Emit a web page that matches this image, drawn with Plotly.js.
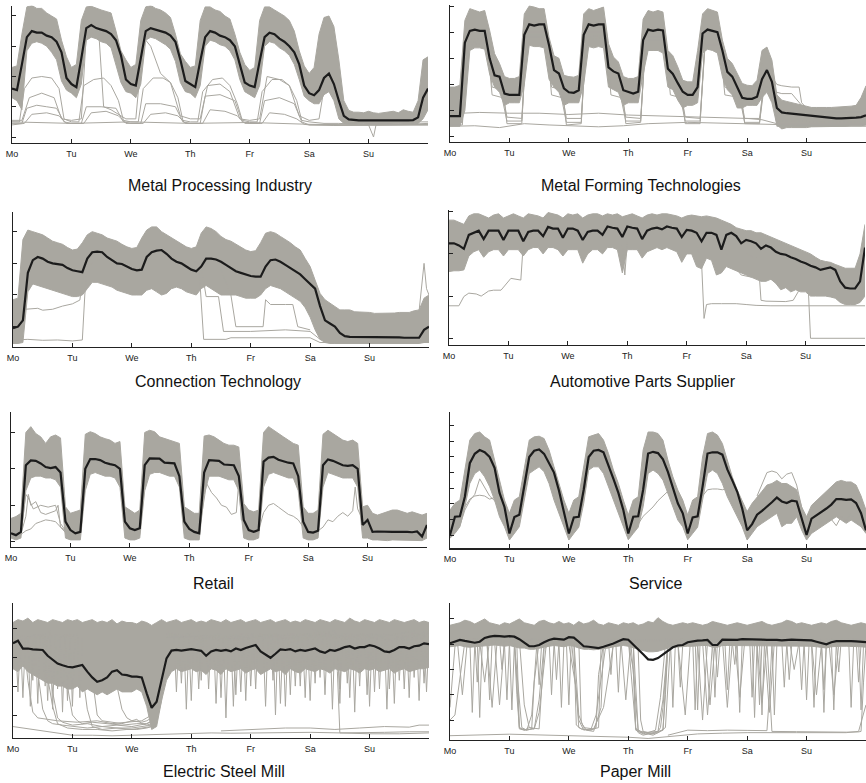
<!DOCTYPE html>
<html><head><meta charset="utf-8">
<script src="https://cdn.plot.ly/plotly-3.0.1.min.js"></script>
<style>html,body{margin:0;padding:0;background:#fff}#chart{width:866px;height:783px}</style>
</head><body><div id="chart"></div>
<script>
const HOURS = [0,2,4,6,8,10,12,14,16,18,20,22,24,26,28,30,32,34,36,38,40,42,44,46,48,50,52,54,56,58,60,62,64,66,68,70,72,74,76,78,80,82,84,86,88,90,92,94,96,98,100,102,104,106,108,110,112,114,116,118,120,122,124,126,128,130,132,134,136,138,140,142,144,146,148,150,152,154,156,158,160,162,164,166,168];
const DAY_TICKS = [0,24,48,72,96,120,144];
const DAY_LABELS = ['Mo','Tu','We','Th','Fr','Sa','Su'];
const TITLES = ['Metal Processing Industry','Metal Forming Technologies','Connection Technology','Automotive Parts Supplier','Retail','Service','Electric Steel Mill','Paper Mill'];

// ---------- Panel 1: Metal Processing Industry ----------
const P1_MEAN = [1.6,1.55,2.4,3.3,3.5,3.45,3.45,3.35,3.3,3.15,2.8,1.95,
1.75,1.65,2.6,3.6,3.7,3.6,3.55,3.5,3.4,3.2,2.7,1.9,
1.75,1.7,2.6,3.5,3.6,3.55,3.5,3.45,3.35,3.15,2.55,1.85,
1.75,1.65,2.5,3.3,3.5,3.45,3.35,3.3,3.2,3.0,2.4,1.8,
1.7,1.65,2.5,3.3,3.45,3.4,3.25,3.15,3.0,2.8,2.4,1.7,
1.45,1.38,1.55,1.95,2.1,1.75,1.2,0.7,0.58,0.56,0.55,0.55,0.55,0.54,0.55,0.54,0.53,0.53,0.54,0.54,0.55,0.56,0.65,1.3,1.6];
const P1_UPPER = [2.3,2.35,3.4,4.3,4.35,4.25,4.25,4.1,4.0,3.9,3.2,2.65,
2.3,2.4,3.85,4.3,4.32,4.25,4.2,4.15,4.1,3.5,2.85,2.55,
2.3,2.4,3.85,4.3,4.35,4.25,4.2,4.1,3.95,3.4,2.75,2.5,
2.3,2.35,3.85,4.3,4.3,4.2,4.15,4.0,3.9,3.4,2.8,2.4,
2.2,2.3,3.85,4.3,4.3,4.2,4.1,4.0,3.85,3.5,2.85,2.35,
2.1,2.3,3.4,3.95,4.0,3.65,2.55,1.2,0.88,0.82,0.82,0.8,0.85,0.8,0.78,0.8,0.82,0.85,0.8,0.9,0.85,0.82,1.2,2.55,2.65];
const P1_LOWER = [1.3,1.2,0.9,2.85,3.1,3.15,3.1,3.0,2.8,2.55,1.85,1.55,
1.45,1.3,1.75,3.2,3.3,3.25,3.15,3.1,2.95,2.4,1.8,1.5,
1.45,1.3,1.75,3.2,3.3,3.25,3.15,3.05,2.9,2.5,1.8,1.5,
1.45,1.3,1.7,3.0,3.2,3.15,3.05,3.0,2.85,2.55,1.9,1.5,
1.4,1.3,1.7,3.0,3.15,3.1,2.95,2.85,2.7,2.4,1.9,1.35,
1.2,1.1,1.1,1.4,1.5,1.2,0.6,0.45,0.42,0.43,0.42,0.44,0.42,0.43,0.42,0.42,0.43,0.42,0.44,0.43,0.42,0.43,0.45,0.6,0.9];
const P1_O1_H = [0,3,5,8,12,16,19,21,24,27,29,33,37,40,43,45,48,51,53,57,61,64,67,69,72,75,77,81,85,88,91,93,96,99,101,105,109,112,115,117,120,126,132,140,150,160,168];
const P1_O1_V = [0.5,0.5,1.6,1.95,2.0,1.95,1.6,0.6,0.5,0.5,1.7,1.9,1.95,1.7,1.2,0.55,0.5,0.5,1.6,1.95,1.95,1.8,1.3,0.55,0.5,0.5,1.5,1.9,1.95,1.7,1.1,0.55,0.5,0.5,1.5,1.9,1.9,1.7,1.2,0.55,0.5,0.45,0.45,0.42,0.42,0.42,0.45];
const P1_O2_H = [0,4,6,10,14,18,21,24,28,30,36,42,45,48,52,54,60,66,69,72,76,78,84,90,93,96,100,102,108,114,117,120,130,140,150,160,168];
const P1_O2_V = [0.45,0.45,0.95,1.05,1.0,0.95,0.5,0.45,0.45,1.0,1.0,0.95,0.5,0.45,0.45,1.1,1.1,1.0,0.5,0.45,0.45,1.35,1.4,1.2,0.5,0.45,0.45,1.2,1.3,1.1,0.5,0.4,0.38,0.38,0.38,0.38,0.4];
const P1_O3_H = [0,24,48,72,96,120,144,146,147,168];
const P1_O3_V = [0.5,0.45,0.5,0.45,0.48,0.42,0.4,0.0,0.4,0.42];
const P1_O4_H = [0,4,7,12,17,20,24,28,30,35,37,40,46,50,53,56,60,64,68,72,76,79,84,88,92,96,100,103,108,112,116,120,124,127,130,134,168];
const P1_O4_V = [0.55,0.55,1.3,1.45,1.3,0.6,0.55,0.6,3.4,3.5,1.0,0.9,0.6,0.6,3.3,3.0,2.1,1.8,0.7,0.6,0.6,1.7,1.75,1.5,0.6,0.55,0.6,2.0,1.9,1.7,0.7,0.55,0.6,2.1,1.6,0.5,0.5];
const P1_O5_H = [0,5,8,14,19,22,29,32,38,43,46,53,56,62,67,70,77,80,86,91,94,101,104,110,115,118,120,168];
const P1_O5_V = [0.4,0.45,0.75,0.8,0.7,0.45,0.45,0.8,0.85,0.7,0.45,0.45,0.75,0.8,0.7,0.45,0.45,0.9,0.85,0.7,0.45,0.45,0.8,0.75,0.6,0.42,0.4,0.4];

// ---------- Panel 2: Metal Forming Technologies ----------
const P2_MEAN = [0.79,0.79,0.79,3.6,4.05,4.1,4.05,4.05,3.0,2.35,2.3,1.65,
1.6,1.6,1.6,3.9,4.3,4.25,4.3,4.3,3.5,2.55,2.42,1.85,
1.7,1.68,1.78,3.9,4.3,4.25,4.3,4.3,2.65,2.5,2.42,1.78,
1.7,1.65,1.72,3.7,4.1,4.05,4.1,4.07,2.6,2.4,2.05,1.72,
1.6,1.6,1.9,3.95,4.1,4.05,4.0,3.3,2.48,2.3,1.88,1.49,
1.45,1.45,1.53,2.2,2.55,2.1,1.1,0.93,0.9,0.88,0.85,0.83,0.8,0.78,0.77,0.75,0.72,0.7,0.7,0.7,0.72,0.72,0.73,0.75,0.82];
const P2_UPPER = [1.9,1.9,1.97,4.45,4.9,4.83,4.77,4.83,4.07,3.18,2.8,2.3,
2.23,2.23,2.3,4.7,5.0,4.96,4.9,4.9,3.8,3.1,3.0,2.35,
2.3,2.28,2.35,4.7,4.9,4.83,4.9,4.96,3.56,3.05,2.86,2.3,
2.23,2.23,2.3,4.5,4.83,4.77,4.83,4.77,3.3,3.1,2.67,2.16,
2.1,2.1,3.3,4.7,4.9,4.83,4.77,3.7,3.0,2.8,2.42,2.04,
1.97,1.95,2.16,3.3,3.43,2.93,1.6,1.4,1.35,1.3,1.25,1.2,1.15,1.12,1.12,1.13,1.12,1.12,1.13,1.14,1.15,1.17,1.2,1.5,1.95];
const P2_LOWER = [0.4,0.4,0.4,1.0,3.3,3.4,3.4,3.35,2.4,1.9,1.7,1.2,
1.3,1.3,1.3,2.0,3.5,3.45,3.45,3.4,2.2,1.9,1.7,1.2,
1.3,1.3,1.3,2.0,3.45,3.4,3.45,3.4,1.9,1.8,1.7,1.2,
1.3,1.3,1.3,2.4,3.3,3.3,3.3,3.2,1.9,1.8,1.4,1.1,
1.2,1.2,1.3,3.2,3.35,3.3,3.2,2.3,1.8,1.6,1.1,1.1,
1.2,1.2,1.2,1.5,1.7,1.3,0.45,0.3,0.35,0.35,0.35,0.35,0.35,0.38,0.38,0.38,0.4,0.4,0.4,0.4,0.4,0.42,0.42,0.42,0.45];
const P2_O1_H = [0,12,24,36,48,60,72,84,96,108,120,126,132,168];
const P2_O1_V = [0.88,0.93,0.9,0.9,0.85,0.9,0.83,0.8,0.78,0.75,0.7,0.65,0.5,0.5];
const P2_O2_H = [0,10,20,30,40,50,60,70,80,96,120,140,168];
const P2_O2_V = [0.4,0.42,0.35,0.5,0.45,0.42,0.38,0.42,0.5,0.55,0.5,0.45,0.45];
const P2_O3_H = [120,124,126,128,132,134,138,141,142,144,168];
const P2_O3_V = [1.6,1.8,2.8,2.6,2.0,1.95,1.9,1.9,1.3,1.1,1.05];
const P2_O4_H = [118,122,126,130,134,138,142,146,150,168];
const P2_O4_V = [1.7,1.65,2.0,1.75,1.65,1.65,1.2,1.0,0.95,0.95];
const P2_N_H = [0,5,7,15,17,21,23,29,31,39,41,45,47,53,55,63,65,69,71,77,79,87,89,93,95,101,103,109,111,117,119,125,127,130,132,168];
const P2_N1_V = [0.45,0.45,3.7,3.8,2.3,2.2,0.5,0.5,4.0,4.0,2.3,2.2,0.45,0.5,4.0,4.0,2.3,2.2,0.5,0.55,3.8,3.8,2.3,2.1,0.5,0.5,3.8,3.7,2.3,2.0,0.5,0.5,2.4,2.2,0.4,0.4];
const P2_N2_V = [0.7,0.7,3.6,3.7,1.9,1.8,0.75,0.7,3.9,3.9,1.9,1.8,0.7,0.7,3.8,3.9,1.9,1.8,0.75,0.7,3.7,3.7,1.9,1.8,0.75,0.7,3.6,3.6,1.9,1.7,0.7,0.7,2.2,2.0,0.6,0.55];
const P2_N3_V = [0.55,0.55,3.5,3.6,1.6,1.5,0.6,0.6,3.8,3.8,1.6,1.5,0.55,0.55,3.7,3.8,1.6,1.5,0.6,0.6,3.6,3.6,1.6,1.5,0.6,0.6,3.5,3.5,1.6,1.5,0.55,0.55,2.0,1.8,0.5,0.5];

// ---------- Panel 3: Connection Technology ----------
const P3_MEAN = [-0.05,0.0,0.2,1.7,2.1,2.2,2.15,2.05,2.0,1.98,1.95,1.85,
1.78,1.75,1.72,2.15,2.35,2.37,2.35,2.2,2.1,2.0,1.98,1.9,
1.82,1.78,1.8,2.2,2.35,2.4,2.42,2.3,2.15,2.05,2.0,1.9,
1.8,1.75,1.9,2.15,2.15,2.12,2.05,1.95,1.85,1.75,1.7,1.65,
1.6,1.58,1.58,1.9,2.1,2.12,2.05,1.95,1.85,1.75,1.65,1.5,
1.35,1.2,0.65,0.2,0.1,0.0,-0.2,-0.3,-0.32,-0.32,-0.32,-0.32,-0.32,-0.32,-0.33,-0.33,-0.33,-0.34,-0.34,-0.35,-0.35,-0.35,-0.35,-0.1,0.0];
const P3_UPPER = [0.85,0.9,2.75,3.05,3.0,2.95,2.9,2.8,2.7,2.65,2.6,2.5,
2.42,2.45,2.65,2.9,3.0,2.95,2.9,2.8,2.75,2.7,2.6,2.52,
2.47,2.5,2.8,3.05,3.15,3.15,3.0,2.9,2.8,2.7,2.6,2.52,
2.47,2.52,2.95,3.15,3.1,3.0,2.85,2.75,2.7,2.6,2.52,2.42,
2.37,2.4,2.65,2.95,3.0,2.95,2.85,2.75,2.65,2.52,2.42,2.15,
1.9,1.47,1.05,0.85,0.75,0.63,0.53,0.53,0.53,0.47,0.47,0.45,0.45,0.42,0.42,0.42,0.42,0.43,0.45,0.45,0.45,0.5,0.53,0.9,1.0];
const P3_LOWER = [-0.53,-0.53,-0.5,1.1,1.35,1.3,1.25,1.2,1.15,1.1,1.05,1.0,
0.95,0.95,1.0,1.2,1.4,1.4,1.35,1.3,1.25,1.15,1.1,1.05,
1.0,1.0,1.0,1.15,1.2,1.1,1.0,1.05,1.2,1.25,1.2,1.1,
1.05,1.0,1.2,1.3,1.2,1.1,1.0,1.0,1.0,1.0,0.95,0.9,
0.9,0.9,1.0,1.2,1.3,1.25,1.2,1.1,1.0,0.9,0.8,0.6,
0.3,-0.1,-0.4,-0.5,-0.53,-0.53,-0.53,-0.53,-0.53,-0.53,-0.53,-0.53,-0.53,-0.53,-0.53,-0.53,-0.53,-0.53,-0.53,-0.53,-0.53,-0.53,-0.53,-0.5,-0.5];
const P3_O1_H = [0,5,10,12,16,20,24,27,29,31];
const P3_O1_V = [0.3,0.55,0.58,0.52,0.55,0.65,0.72,0.84,2.0,2.1];
const P3_O2_H = [0,6,12,18,24,28,29,30,34];
const P3_O2_V = [-0.42,-0.4,-0.43,-0.42,-0.45,-0.42,1.0,1.9,2.1];
const P3_O3_H = [74,76,78,83,85,96,110,120,124,168];
const P3_O3_V = [2.0,1.9,0.95,0.95,-0.15,-0.15,-0.1,-0.15,-0.4,-0.4];
const P3_O4_H = [72,75,77,84,86,88,120,124,168];
const P3_O4_V = [2.1,2.0,-0.4,-0.4,-0.4,-0.35,-0.35,-0.5,-0.5];
const P3_O5_H = [84,88,90,96,100,101,102,104,110,113,115,120];
const P3_O5_V = [1.8,1.0,0.0,0.0,0.0,0.0,0.85,0.7,0.7,0.7,0.0,-0.1];
const P3_O6_H = [162,164,166,167,168];
const P3_O6_V = [0.3,0.5,2.0,1.2,1.0];

// ---------- Panel 4: Automotive Parts Supplier ----------
const P4_MEAN = [2.25,2.25,2.2,2.12,2.45,2.5,2.55,2.35,2.55,2.55,2.55,2.33,
2.55,2.55,2.55,2.3,2.52,2.55,2.55,2.42,2.64,2.6,2.6,2.38,
2.6,2.6,2.55,2.33,2.52,2.55,2.55,2.45,2.65,2.62,2.6,2.4,
2.65,2.62,2.6,2.35,2.55,2.6,2.62,2.58,2.65,2.62,2.6,2.4,
2.57,2.55,2.5,2.3,2.5,2.5,2.45,2.1,2.45,2.5,2.42,2.25,
2.33,2.3,2.25,2.12,2.2,2.15,2.05,2.0,1.98,1.92,1.88,1.82,1.78,1.72,1.68,1.62,1.65,1.68,1.62,1.35,1.2,1.18,1.18,1.35,2.15];
const P4_UPPER = [2.8,2.8,2.75,2.7,2.9,2.95,2.95,2.9,2.85,2.92,2.95,2.85,
2.9,2.95,2.9,2.85,2.95,2.92,2.9,2.85,2.98,2.95,2.92,2.85,
2.95,2.92,2.95,2.85,2.92,2.95,2.95,2.9,2.95,2.92,2.95,2.88,
2.92,2.95,2.9,2.85,2.92,2.95,2.92,2.95,2.95,2.92,2.9,2.85,
2.9,2.92,2.9,2.88,2.9,2.88,2.85,2.8,2.75,2.7,2.62,2.58,
2.55,2.55,2.5,2.5,2.45,2.4,2.35,2.3,2.25,2.2,2.15,2.1,2.05,2.0,1.92,1.85,1.82,1.8,1.75,1.7,1.66,1.66,1.66,2.0,2.7];
const P4_LOWER = [1.58,1.6,1.6,1.62,1.95,2.05,2.1,1.92,2.05,2.1,2.1,1.95,
2.1,2.1,2.1,1.95,2.1,2.15,2.15,2.0,2.15,2.15,2.1,1.95,
2.1,2.1,2.1,1.78,2.0,2.1,2.1,2.0,2.15,2.15,2.1,1.55,
2.1,2.1,2.1,1.9,2.05,2.1,2.15,2.1,2.15,2.1,2.05,1.8,
2.0,2.0,1.7,1.65,1.9,1.85,1.5,1.55,1.7,1.65,1.6,1.55,
1.5,1.45,1.4,1.35,1.35,1.4,1.3,1.15,1.2,1.1,1.15,1.1,1.1,1.0,1.0,1.0,1.0,0.98,0.95,0.85,0.8,0.8,0.8,0.85,1.0];
const P4_O1_H = [0,4,6,8,11,13,16,18,21,25,29,30,32];
const P4_O1_V = [0.77,0.77,0.99,1.07,1.05,1.0,1.12,1.14,1.14,1.42,1.38,2.25,2.35];
const P4_O2_H = [96,100,102,103,104,106,110,116,120,124,130,140,150,160,168];
const P4_O2_V = [2.4,2.2,1.8,0.47,0.8,0.82,0.82,0.82,0.8,0.78,0.77,0.77,0.77,0.77,0.77];
const P4_O3_H = [120,124,125,126,128,132,136,139,141,143,145,146,147,168];
const P4_O3_V = [2.0,1.9,1.75,0.9,0.88,0.87,0.87,0.9,1.1,1.4,1.3,0.0,0.0,0.0];
const P4_O4_H = [110,114,118,122,126,130,134,138,142,146];
const P4_O4_V = [2.2,1.8,1.5,1.45,1.6,1.4,1.25,1.2,1.5,1.5];
const P4_O5_H = [68,70,71,72,74];
const P4_O5_V = [2.4,2.2,1.5,2.3,2.5];

// ---------- Panel 5: Retail ----------
const P5_MEAN = [0.23,0.18,0.27,2.1,2.23,2.22,2.15,2.05,2.02,2.05,1.9,0.55,
0.32,0.23,0.27,2.0,2.27,2.27,2.24,2.17,2.13,2.1,2.0,0.55,
0.37,0.32,0.37,2.1,2.29,2.29,2.28,2.17,2.15,2.15,1.8,0.55,
0.35,0.27,0.23,1.9,2.24,2.23,2.22,2.12,2.1,2.1,1.8,0.6,
0.32,0.27,0.32,2.2,2.31,2.33,2.25,2.2,2.17,2.15,1.8,0.55,
0.27,0.25,0.3,2.1,2.26,2.22,2.17,2.1,2.08,2.1,2.0,0.46,0.6,0.27,0.28,0.27,0.26,0.27,0.27,0.28,0.27,0.26,0.28,0.14,0.46];
const P5_UPPER = [0.64,0.69,0.78,3.0,3.16,2.97,2.88,2.7,2.88,2.93,2.85,0.96,
0.78,0.82,0.87,2.95,3.02,2.97,2.88,2.83,2.79,2.7,2.75,0.96,
0.87,0.78,0.87,3.0,3.06,3.02,2.88,2.83,2.79,2.75,2.7,0.96,
0.87,0.78,0.78,2.9,2.93,2.88,2.79,2.7,2.65,2.65,2.6,1.05,
0.87,0.82,0.87,3.0,3.16,3.06,2.97,2.88,2.79,2.7,2.65,0.96,
0.78,0.78,0.87,2.95,3.06,2.97,2.88,2.79,2.75,2.79,2.7,0.96,1.0,0.78,0.73,0.78,0.82,0.87,0.87,0.82,0.78,0.82,0.78,0.73,0.78];
const P5_LOWER = [0.1,0.05,0.1,1.4,1.75,1.8,1.8,1.75,1.75,1.7,1.5,0.1,
0.05,0.05,0.05,1.4,1.85,1.9,1.85,1.8,1.8,1.75,1.5,0.1,
0.05,0.05,0.1,1.4,1.85,1.9,1.9,1.85,1.8,1.8,1.5,0.1,
0.05,0.05,0.05,1.3,1.8,1.8,1.8,1.75,1.7,1.7,1.4,0.1,
0.05,0.05,0.1,1.5,1.85,1.9,1.85,1.8,1.75,1.75,1.4,0.1,
0.05,0.05,0.1,1.5,1.9,1.85,1.8,1.75,1.75,1.75,1.5,0.1,0.1,0.05,0.05,0.03,0.03,0.05,0.05,0.05,0.03,0.05,0.05,0.03,0.1];
const P5_O1_H = [4,6,7,8,10,12,14,16,18,19,20,22];
const P5_O1_V = [0.2,0.7,1.3,1.0,1.1,0.8,0.75,0.8,0.85,1.0,0.4,0.3];
const P5_O2_H = [4,6,8,10,12,14,16,18,20,22];
const P5_O2_V = [0.2,0.3,0.35,0.5,0.55,0.6,0.58,0.55,0.4,0.25];
const P5_O3_H = [4,6,7,9,12,15,18,20,22];
const P5_O3_V = [0.2,1.3,1.2,0.9,1.0,0.95,1.0,0.5,0.3];
const P5_O4_H = [76,78,79,81,83,85,87,89,91,92,93,95,96];
const P5_O4_V = [0.3,1.2,1.6,1.35,1.2,1.0,0.95,0.75,0.8,1.65,0.6,0.5,0.3];
const P5_O5_H = [100,102,104,106,108,110,112,114,116,118];
const P5_O5_V = [0.3,0.8,1.0,1.05,0.95,0.85,0.75,0.7,0.6,0.4];
const P5_O6_H = [124,126,128,130,132,134,136,138,139,140,142];
const P5_O6_V = [0.3,0.4,0.6,0.55,0.7,0.8,0.7,0.85,1.5,0.9,0.6];

// ---------- Panel 6: Service ----------
const P6_MEAN = [0.0,1.17,1.2,2.45,4.6,5.2,5.44,5.3,5.0,4.3,2.7,1.8,
0.1,1.15,1.3,3.2,5.0,5.4,5.48,5.2,4.6,4.0,2.85,1.4,
0.1,1.13,1.17,2.9,5.0,5.4,5.45,5.3,4.5,3.6,2.7,1.6,
0.1,1.17,1.2,2.9,5.22,5.33,5.25,4.85,4.05,3.1,2.03,1.39,
0.1,1.13,1.2,3.1,5.22,5.3,5.3,5.15,4.2,3.5,2.77,1.7,
0.3,0.7,1.3,1.55,1.8,2.1,2.4,2.15,2.05,2.2,2.15,1.0,0.0,1.05,1.25,1.45,1.7,1.95,2.3,2.3,2.25,2.28,2.05,1.4,0.3];
const P6_UPPER = [1.6,2.03,2.24,4.16,6.08,6.5,6.6,6.29,6.08,4.8,3.52,2.24,
1.39,2.24,2.45,4.37,6.08,6.29,6.33,6.18,5.44,4.37,3.3,2.24,
1.39,2.24,2.45,4.37,6.29,6.4,6.5,6.08,5.22,4.16,3.3,2.24,
1.28,2.24,2.45,5.44,6.6,6.6,6.5,6.08,4.8,3.73,2.88,2.24,
1.28,2.24,2.45,5.0,6.5,6.6,6.4,5.86,4.8,3.73,2.88,2.24,
1.5,2.03,2.45,2.8,3.2,3.3,3.5,3.3,3.3,3.1,2.9,1.8,1.17,1.9,2.2,2.5,2.8,3.1,3.4,3.5,3.4,3.4,3.2,2.5,1.6];
const P6_LOWER = [-0.2,0.1,0.53,1.81,3.3,3.94,4.16,3.73,3.1,2.24,1.17,0.53,
-0.32,0.1,0.53,2.24,3.94,4.16,4.37,4.05,3.3,2.24,1.39,0.53,
-0.32,0.1,0.5,2.03,4.16,4.37,4.37,3.94,3.1,2.24,1.39,0.53,
-0.3,0.1,0.5,1.81,3.94,4.16,3.94,3.52,2.67,1.81,0.96,0.53,
-0.3,0.1,0.5,2.24,3.94,4.16,3.94,3.3,2.45,1.81,1.17,0.53,
-0.32,0.1,0.53,0.75,0.96,1.17,1.39,0.53,0.75,0.75,1.17,0.32,-0.32,0.1,0.32,0.53,0.75,0.96,1.17,0.96,0.75,0.96,0.75,0.53,0.1];
const P6_O1_H = [4,6,8,10,12,14,16,18,20,22];
const P6_O1_V = [0.6,1.6,2.2,2.6,3.6,3.0,2.5,2.2,1.8,1.2];
const P6_O2_H = [4,6,8,10,12,14,16,18,20,22,24];
const P6_O2_V = [0.8,1.8,2.3,2.5,2.55,2.5,2.3,2.4,2.0,1.3,0.3];
const P6_O3_H = [76,78,80,82,84,86,88,90,92,94,96];
const P6_O3_V = [0.7,1.2,1.5,1.8,2.2,2.5,2.8,3.3,2.4,1.5,0.3];
const P6_O4_H = [102,104,106,108,110,112,114];
const P6_O4_V = [2.5,2.9,2.95,2.95,2.9,3.0,3.5];
const P6_O5_H = [124,126,128,130,132,134,136,138,140,142,144];
const P6_O5_V = [2.5,3.3,4.0,4.1,4.0,3.6,3.9,4.0,3.2,1.8,0.5];
const P6_O6_H = [146,150,154,156,158,160,162,164,166,168];
const P6_O6_V = [0.3,0.8,1.0,0.6,1.2,0.9,1.4,0.8,1.0,0.5];

// ---------- Panel 7: Electric Steel Mill ----------
const P7_MEAN = [2.48,2.57,2.3,2.3,2.27,2.26,2.25,2.05,1.9,1.78,1.72,1.67,
1.65,1.7,1.73,1.5,1.3,1.15,1.2,1.3,1.5,1.55,1.4,1.38,
1.33,1.33,1.3,0.75,0.25,0.46,1.27,1.96,2.23,2.25,2.23,2.25,
2.28,2.25,2.22,2.05,2.2,2.25,2.22,2.25,2.2,2.3,2.25,2.32,
2.38,2.42,2.2,2.08,1.98,2.12,2.27,2.25,2.28,2.2,2.25,2.22,
2.25,2.3,2.2,2.15,2.25,2.22,2.28,2.35,2.38,2.3,2.35,2.35,2.42,2.38,2.3,2.2,2.18,2.25,2.35,2.35,2.3,2.38,2.4,2.48,2.45];
const P7_UPPER = [3.2,3.3,3.25,3.35,3.2,3.3,3.25,3.2,3.3,3.25,3.2,3.3,
3.25,3.3,3.2,3.25,3.3,3.2,3.25,3.2,3.3,3.15,3.25,3.2,
3.2,3.15,3.25,3.2,3.1,3.2,3.3,3.2,3.25,3.3,3.2,3.25,
3.3,3.2,3.25,3.2,3.3,3.25,3.2,3.3,3.2,3.25,3.3,3.2,
3.25,3.3,3.2,3.25,3.3,3.2,3.25,3.3,3.2,3.25,3.2,3.3,
3.25,3.2,3.3,3.25,3.2,3.3,3.25,3.2,3.35,3.25,3.2,3.3,3.25,3.2,3.3,3.25,3.2,3.3,3.25,3.2,3.25,3.3,3.2,3.25,3.2];
const P7_LOWER = [1.6,1.5,1.7,1.5,1.4,1.3,1.2,1.1,1.1,1.0,1.0,0.9,
0.9,1.0,0.8,0.9,0.8,0.7,0.8,0.7,0.8,0.9,0.8,0.8,
0.8,0.9,0.8,0.3,-0.5,-0.4,0.5,1.2,1.5,1.6,1.5,1.55,
1.6,1.5,1.55,1.4,1.6,1.55,1.4,1.6,1.5,1.55,1.6,1.45,
1.55,1.6,1.4,1.5,1.6,1.5,1.55,1.4,1.6,1.5,1.45,1.6,
1.55,1.5,1.6,1.55,1.45,1.6,1.55,1.5,1.6,1.55,1.45,1.6,1.55,1.6,1.5,1.55,1.6,1.45,1.55,1.6,1.5,1.55,1.6,1.6,1.65];
const P7_O1_H = [0,8,16,24,32,40,48,56,64,72,80,88,96,104,112,120,132,144,156,168];
const P7_O1_V = [-0.4,-0.5,-0.6,-0.7,-0.7,-0.72,-0.7,-0.68,-0.65,-0.62,-0.62,-0.63,-0.62,-0.62,-0.62,-0.6,-0.62,-0.65,-0.65,-0.62];
const P7_O2_H = [84,96,110,120,130,140,150,160,164,168];
const P7_O2_V = [-0.55,-0.5,-0.45,-0.45,-0.5,-0.45,-0.4,-0.42,-0.35,-0.35];
const P7_O3_H = [120,126,130,131,132,140,150,160,168];
const P7_O3_V = [3.0,2.8,2.9,1.5,-0.62,-0.62,-0.6,-0.58,-0.58];
const P7_O4_H = [8,10,12,14,16,20,24,30,36,42,48,52,56,58,60,62];
const P7_O4_V = [2.8,1.5,0.2,-0.2,-0.3,-0.35,-0.4,-0.45,-0.4,-0.45,-0.45,-0.4,-0.35,0.5,2.0,2.8];
const P7_O5_H = [20,22,24,26,28,32,38,44,50,54,56,58,59,60,62];
const P7_O5_V = [2.5,1.0,0.0,-0.2,-0.3,-0.25,-0.3,-0.35,-0.3,-0.3,-0.2,0.2,1.5,2.5,2.9];
const P7_O6_H = [4,6,8,10,14,18,26,34,40,46,52,54,56,58,60];
const P7_O6_V = [2.9,1.2,0.1,-0.1,-0.15,-0.2,-0.25,-0.2,-0.3,-0.25,-0.2,-0.1,0.0,0.8,2.7];
const P7_O7_H = [30,32,34,36,40,44,48,52,54,56,58,60];
const P7_O7_V = [2.6,1.2,0.0,-0.2,-0.25,-0.3,-0.2,-0.25,-0.2,-0.1,1.0,3.0];
const P7_O8_H = [40,42,44,46,48,50,52,54,56,58,60,61,62];
const P7_O8_V = [2.9,1.0,0.2,-0.1,-0.2,-0.15,-0.3,-0.35,-0.3,-0.2,0.5,2.0,3.0];
const P7_O9_H = [62,70,71,72,73,84,85,86,87,100,101,102,103,116,117,118,119,130,131,132,133,145,146,147,162,163,164,165,168];
const P7_O9_V = [2.8,2.8,2.6,0.5,2.7,2.8,2.5,-0.1,2.6,2.7,2.6,0.3,2.7,2.8,2.6,0.6,2.8,2.9,2.7,0.4,2.7,2.8,0.8,2.7,2.9,2.7,0.5,2.8,2.8];
const P7_O10_H = [62,69,70,71,83,84,85,97,98,99,109,110,111,125,126,127,139,140,141,153,154,155,165,166,167,168];
const P7_O10_V = [2.9,2.7,0.2,2.5,2.8,0.6,2.6,2.8,0.9,2.8,2.7,0.3,2.5,2.8,0.7,2.8,2.7,1.0,2.8,2.6,0.4,2.7,2.8,1.1,2.6,2.7];
const P7_O11_H = [0,3,4,5,9,10,11,15,16,17,21,22,23,24];
const P7_O11_V = [2.9,2.7,0.6,2.6,2.8,0.4,2.7,2.9,0.2,2.5,2.8,0.5,2.6,2.7];
const P7_O12_H = [64,65,66,67,75,76,77,89,90,91,105,106,107,121,122,123,135,136,137,147,148,149,161,162,163,168];
const P7_O12_V = [2.8,2.7,0.8,2.7,2.9,1.2,2.8,2.8,0.7,2.6,2.7,0.0,2.8,2.8,1.1,2.7,2.8,0.6,2.7,2.8,0.9,2.7,2.9,1.3,2.8,2.9];
const P7_O13_H = [62,78,79,80,93,94,95,113,114,115,128,129,130,142,143,144,157,158,159,168];
const P7_O13_V = [2.8,2.8,0.9,2.7,2.8,0.5,2.7,2.8,1.0,2.7,2.8,0.2,2.7,2.8,0.7,2.7,2.8,0.9,2.7,2.8];
const P7_O14_H = [0,6,7,8,12,13,14,19,20,21,26,27,28];
const P7_O14_V = [2.8,2.7,0.3,2.6,2.8,1.0,2.7,2.8,0.1,2.7,2.8,0.6,2.7];
const P7_O15_H = [62,74,75,76,88,89,90,104,105,106,119,120,121,134,135,136,150,151,152,166,167,168];
const P7_O15_V = [2.7,2.7,0.9,2.6,2.7,0.3,2.6,2.8,1.2,2.7,2.6,0.5,2.7,2.8,1.1,2.6,2.7,0.2,2.6,2.8,0.8,2.7];
const P7_O16_H = [62,81,82,83,95,96,97,111,112,113,123,124,125,137,138,139,151,152,153,159,160,161,168];
const P7_O16_V = [2.8,2.7,0.4,2.6,2.8,1.0,2.7,2.6,0.7,2.8,2.7,1.3,2.6,2.8,0.1,2.7,2.8,0.9,2.6,2.7,0.6,2.8,2.7];
const P7_O17_H = [62,67,68,69,91,92,93,107,108,109,115,116,117,131,132,133,143,144,145,155,156,157,168];
const P7_O17_V = [2.7,2.8,1.1,2.7,2.6,0.8,2.7,2.8,0.4,2.6,2.7,1.0,2.8,2.7,0.9,2.6,2.8,0.3,2.7,2.8,1.2,2.6,2.7];
const P7_O18_H = [0,1,2,3,7,8,9,13,14,15,17,18,19,23,24,25];
const P7_O18_V = [2.8,2.7,0.8,2.6,2.7,1.2,2.8,2.7,0.5,2.6,2.8,0.9,2.7,2.8,0.3,2.6];
const P7_O19_H = [12,14,16,18,22,28,34,40,46,50,54,56,58,59,60];
const P7_O19_V = [2.6,1.3,0.3,-0.3,-0.45,-0.5,-0.5,-0.55,-0.5,-0.5,-0.45,-0.4,0.0,1.5,2.7];
const P7_O20_H = [26,28,30,32,36,42,48,52,56,58,60,62];
const P7_O20_V = [2.8,1.5,0.2,-0.4,-0.5,-0.45,-0.5,-0.45,-0.4,0.3,1.8,2.9];
const P7_O21_H = [14,16,18,20,24,30,36,42,48,54,57,59,61];
const P7_O21_V = [2.7,0.8,-0.1,-0.25,-0.35,-0.3,-0.4,-0.35,-0.4,-0.3,-0.2,1.0,2.8];

// ---------- Panel 8: Paper Mill ----------
const P8_MEAN = [3.04,3.12,3.17,3.13,3.1,3.06,3.1,3.25,3.3,3.33,3.32,3.3,
3.32,3.3,3.2,3.05,2.92,2.92,2.97,3.08,3.17,3.22,3.2,3.18,
3.28,3.26,3.1,2.92,2.9,2.87,2.85,2.9,2.95,3.03,3.12,3.2,
3.18,3.0,2.8,2.6,2.4,2.38,2.45,2.6,2.75,2.88,2.95,2.97,
3.08,3.12,3.14,3.15,3.17,2.97,2.97,3.18,3.18,3.17,3.17,3.2,
3.2,3.19,3.2,3.18,3.17,3.18,3.17,3.15,3.17,3.18,3.17,3.16,3.17,3.15,3.1,3.05,3.0,3.08,3.12,3.12,3.13,3.12,3.11,3.1,3.08];
const P8_UPPER = [3.75,3.8,3.85,3.95,3.9,3.8,3.9,4.0,3.85,3.8,3.75,3.85,
3.8,3.9,4.0,3.85,3.8,3.75,3.9,3.95,3.85,3.8,3.9,3.8,
3.85,3.75,3.9,3.8,3.85,3.95,3.8,3.75,3.85,3.8,3.75,3.85,
3.8,3.85,3.75,3.8,3.9,3.85,4.05,3.9,3.8,3.75,3.8,3.85,
3.8,3.85,3.8,3.75,3.8,3.9,3.85,3.8,3.75,3.8,3.85,3.8,
3.75,3.8,3.85,3.9,3.8,3.75,3.8,3.85,3.95,3.9,3.8,3.85,3.8,3.75,3.8,3.85,3.8,3.9,3.95,3.85,3.8,3.75,3.8,3.85,3.8];
const P8_LOWER = [2.9,2.92,2.95,2.9,2.88,2.9,2.92,2.95,2.95,2.97,2.95,2.92,
2.95,2.9,2.85,2.85,2.8,2.8,2.85,2.9,2.92,2.95,2.92,2.9,
2.95,2.92,2.85,2.8,2.8,2.78,2.8,2.82,2.85,2.9,2.92,2.95,
2.92,2.85,2.8,2.75,2.7,2.7,2.72,2.78,2.85,2.88,2.9,2.9,
2.92,2.92,2.95,2.95,2.95,2.88,2.88,2.95,2.95,2.95,2.95,2.95,
2.95,2.95,2.95,2.95,2.95,2.95,2.95,2.92,2.95,2.95,2.95,2.95,2.95,2.92,2.9,2.88,2.85,2.9,2.92,2.92,2.92,2.92,2.92,2.9,2.88];
const P8_O1_H = [0,24,48,72,80,90,100,110,120,140,160,165,168];
const P8_O1_V = [-0.62,-0.56,-0.62,-0.68,-0.73,-0.65,-0.55,-0.52,-0.5,-0.5,-0.5,-0.45,0.6];
const P8_O2_H = [120,126,128,129,130,140,150,160,165,166,167,168];
const P8_O2_V = [3.1,3.1,3.05,1.0,-0.45,-0.46,-0.48,-0.48,-0.47,-0.45,1.5,3.0];
const P8_O3_H = [88,96,104,112,120,128,129,130];
const P8_O3_V = [-0.6,-0.4,-0.42,-0.4,-0.41,-0.42,1.0,3.0];
const P8_S1_H = [0,2,4,6,8,9,10,14,18,20,22,26,28,30,34,36,38,42,46,50,52,54,58,62,66,70,74,76,78,84,86,88,94,98,102,104,106,110,116,120,124,126,128,132,138,142,146,148,150,154,160,164,168];
const P8_S1_V = [0.5,2.9,3.2,3.1,3.2,0.3,3.0,3.2,3.1,0.6,3.1,3.3,-0.3,-0.4,-0.35,0.8,3.0,3.2,3.1,3.2,0.2,-0.3,-0.35,0.5,3.0,3.2,3.1,-0.4,-0.5,-0.45,0.8,3.1,3.2,3.0,3.1,0.2,3.0,3.2,3.1,3.2,3.0,0.7,3.1,3.2,3.0,3.2,3.1,1.0,3.0,3.2,3.1,3.2,3.1];
const P8_S2_H = [0,3,5,7,11,12,13,16,24,25,26,29,31,33,35,37,40,44,45,46,50,51,53,56,60,61,64,68,72,75,77,80,83,85,87,90,96,99,100,101,108,111,112,113,118,122,123,124,130,134,135,136,144,150,151,152,158,161,162,163,168];
const P8_S2_V = [3.0,3.1,1.0,3.1,3.2,0.1,3.0,3.2,3.1,0.4,3.0,-0.3,-0.4,0.2,2.9,3.1,3.2,3.1,0.5,3.0,3.1,-0.2,-0.35,-0.4,-0.3,2.9,3.2,3.1,3.2,-0.35,-0.45,-0.5,-0.4,0.9,3.0,3.2,3.1,3.2,0.4,3.1,3.2,3.1,1.2,3.0,3.2,3.1,0.1,3.0,3.2,3.1,1.3,3.0,3.1,3.2,0.3,3.0,3.1,3.2,0.5,3.0,3.1];
const P8_S3_H = [0,2,6,10,15,17,19,21,27,28,30,32,34,36,39,41,47,49,52,54,57,59,63,65,69,71,73,76,79,82,86,88,92,95,97,103,105,107,109,115,117,119,121,127,129,131,137,139,141,147,149,153,155,157,160,166,168];
const P8_S3_V = [0.0,0.2,3.1,3.2,3.0,0.5,3.1,3.2,3.0,-0.35,-0.4,-0.3,-0.35,0.3,3.1,3.2,3.0,3.2,0.0,-0.4,-0.35,0.2,3.0,3.1,3.2,0.8,3.1,-0.45,-0.55,-0.5,-0.4,3.0,3.1,0.2,3.0,3.2,0.6,3.0,3.1,3.2,0.9,3.1,3.2,3.0,0.3,3.1,3.2,2.0,3.1,3.2,3.0,3.1,1.0,3.0,3.2,3.1,3.0];
const P8_S4_H = [0,4,8,12,14,16,22,23,24,28,30,32,36,38,42,43,44,48,52,53,55,58,61,62,66,70,74,75,78,81,84,87,89,93,100,102,104,110,112,114,120,125,126,127,133,140,143,144,145,152,159,164,165,166,168];
const P8_S4_V = [3.1,3.2,3.0,3.1,1.5,3.2,3.0,0.8,3.1,3.2,0.6,-0.3,-0.35,2.8,3.2,1.6,3.1,3.0,3.2,-0.1,-0.4,-0.45,0.5,3.0,3.2,3.1,3.0,-0.4,-0.55,-0.55,-0.5,-0.3,3.0,3.2,3.1,0.0,3.1,3.2,0.5,3.1,3.2,3.0,0.2,3.1,3.2,3.0,3.1,0.8,3.0,3.2,3.1,3.2,1.5,3.0,3.1];
const P8_S5_H = [96,98,99,100,104,106,107,108,112,116,117,118,122,124,125,126,130,131,132,136,140,144,146,147,148,150,151,152,154,155,156,158,160,168];
const P8_S5_V = [3.1,3.2,0.4,3.0,3.1,3.2,0.9,3.1,3.2,3.0,0.3,3.1,3.2,3.0,0.6,3.1,3.2,0.2,3.0,3.1,3.2,3.1,3.0,0.5,3.1,3.0,1.2,3.1,3.2,0.4,3.0,3.1,3.2,3.1];
const P8_S6_H = [24,26,27,28,29,31,33,34,36,48,51,52,53,55,57,59,60,62,72,74,75,76,78,80,82,84,86,87,88,96];
const P8_S6_V = [3.1,3.0,1.0,-0.3,-0.35,-0.4,-0.35,1.5,3.1,3.0,1.2,-0.3,-0.35,-0.38,-0.4,-0.3,1.8,3.0,3.1,2.0,-0.3,-0.5,-0.6,-0.55,-0.6,-0.5,-0.4,1.0,3.0,3.1];
const P8_S7_H = [72,76,77,78,80,82,84,85,86,88,90,92];
const P8_S7_V = [3.0,2.8,0.0,-0.45,-0.5,-0.55,-0.45,-0.3,0.5,2.9,3.0,3.1];
const P8_S8_H = [0,10,11,12,20,21,22,40,41,42,64,65,66,92,93,94,114,115,116,136,137,138,156,157,158,168];
const P8_S8_V = [3.1,3.2,1.5,3.1,3.2,2.0,3.1,3.2,1.0,3.0,3.1,1.8,3.2,3.1,1.3,3.0,3.1,2.2,3.2,3.1,1.6,3.0,3.1,1.9,3.2,3.1];
const P8_S9_H = [0,15,16,17,35,36,37,47,48,49,67,68,69,89,90,91,107,108,109,121,122,123,141,142,143,165,166,167,168];
const P8_S9_V = [3.1,3.0,0.8,3.1,3.2,1.4,3.0,3.1,0.6,3.2,3.0,1.1,3.1,3.2,0.5,3.0,3.1,1.7,3.0,3.2,0.9,3.1,3.0,1.2,3.1,3.2,0.4,3.0,3.1];

// ---------- drawing ----------
const GRAY = '#a9a7a0';
const BLACK = '#1c1c1c';
const FONT = 'Liberation Sans, Arial, Helvetica, sans-serif';
const traces = [];

function addPanel(n, mean, upper, lower, outs) {
  const xa = n === 1 ? 'x' : 'x' + n;
  const ya = n === 1 ? 'y' : 'y' + n;
  const base = {xaxis: xa, yaxis: ya, mode: 'lines', hoverinfo: 'skip', showlegend: false};
  traces.push(Object.assign({}, base, {x: HOURS, y: lower, line: {color: GRAY, width: 1}}));
  traces.push(Object.assign({}, base, {x: HOURS, y: upper, line: {color: GRAY, width: 1}, fill: 'tonexty', fillcolor: GRAY}));
  outs.forEach(function (o) {
    traces.push(Object.assign({}, base, {x: o[0], y: o[1], line: {color: GRAY, width: 1}}));
  });
  traces.push(Object.assign({}, base, {x: HOURS, y: mean, line: {color: BLACK, width: 2.2}}));
}

addPanel(1, P1_MEAN, P1_UPPER, P1_LOWER, [[P1_O1_H,P1_O1_V],[P1_O2_H,P1_O2_V],[P1_O3_H,P1_O3_V],[P1_O4_H,P1_O4_V],[P1_O5_H,P1_O5_V]]);
addPanel(2, P2_MEAN, P2_UPPER, P2_LOWER, [[P2_O1_H,P2_O1_V],[P2_O2_H,P2_O2_V],[P2_O3_H,P2_O3_V],[P2_O4_H,P2_O4_V],[P2_N_H,P2_N1_V],[P2_N_H,P2_N2_V],[P2_N_H,P2_N3_V]]);
addPanel(3, P3_MEAN, P3_UPPER, P3_LOWER, [[P3_O1_H,P3_O1_V],[P3_O2_H,P3_O2_V],[P3_O3_H,P3_O3_V],[P3_O4_H,P3_O4_V],[P3_O5_H,P3_O5_V],[P3_O6_H,P3_O6_V]]);
addPanel(4, P4_MEAN, P4_UPPER, P4_LOWER, [[P4_O1_H,P4_O1_V],[P4_O2_H,P4_O2_V],[P4_O3_H,P4_O3_V],[P4_O4_H,P4_O4_V],[P4_O5_H,P4_O5_V]]);
addPanel(5, P5_MEAN, P5_UPPER, P5_LOWER, [[P5_O1_H,P5_O1_V],[P5_O2_H,P5_O2_V],[P5_O3_H,P5_O3_V],[P5_O4_H,P5_O4_V],[P5_O5_H,P5_O5_V],[P5_O6_H,P5_O6_V]]);
addPanel(6, P6_MEAN, P6_UPPER, P6_LOWER, [[P6_O1_H,P6_O1_V],[P6_O2_H,P6_O2_V],[P6_O3_H,P6_O3_V],[P6_O4_H,P6_O4_V],[P6_O5_H,P6_O5_V],[P6_O6_H,P6_O6_V]]);
addPanel(7, P7_MEAN, P7_UPPER, P7_LOWER, [[P7_O1_H,P7_O1_V],[P7_O2_H,P7_O2_V],[P7_O3_H,P7_O3_V],[P7_O4_H,P7_O4_V],[P7_O5_H,P7_O5_V],[P7_O6_H,P7_O6_V],[P7_O7_H,P7_O7_V],[P7_O8_H,P7_O8_V],[P7_O9_H,P7_O9_V],[P7_O10_H,P7_O10_V],[P7_O11_H,P7_O11_V],[P7_O12_H,P7_O12_V],[P7_O13_H,P7_O13_V],[P7_O14_H,P7_O14_V],[P7_O15_H,P7_O15_V],[P7_O16_H,P7_O16_V],[P7_O17_H,P7_O17_V],[P7_O18_H,P7_O18_V],[P7_O19_H,P7_O19_V],[P7_O20_H,P7_O20_V],[P7_O21_H,P7_O21_V]]);
addPanel(8, P8_MEAN, P8_UPPER, P8_LOWER, [[P8_O1_H,P8_O1_V],[P8_O2_H,P8_O2_V],[P8_O3_H,P8_O3_V],[P8_S1_H,P8_S1_V],[P8_S2_H,P8_S2_V],[P8_S3_H,P8_S3_V],[P8_S4_H,P8_S4_V],[P8_S5_H,P8_S5_V],[P8_S6_H,P8_S6_V],[P8_S7_H,P8_S7_V],[P8_S8_H,P8_S8_V],[P8_S9_H,P8_S9_V]]);

// panel frames (domains in paper fractions, y ranges chosen so tick marks land where the original's do)
const FRAMES = [
  {xd:[0.01386,0.49423], yd:[0.81737,0.99272], yr:[-0.198,4.34], yt:[0,1,2,3,4], tx:0.254, ty:0.7625},
  {xd:[0.51963,1.0],     yd:[0.81903,0.99361], yr:[-0.19,5.04],  yt:[0,1,2,3,4,5], tx:0.740, ty:0.7625},
  {xd:[0.01501,0.49538], yd:[0.55722,0.72963], yr:[-0.632,3.63], yt:[0,1,2,3], tx:0.2517, ty:0.5134},
  {xd:[0.51848,0.99885], yd:[0.55939,0.73180], yr:[-0.159,3.04], yt:[0,1,2,3], tx:0.7425, ty:0.5134},
  {xd:[0.01270,0.49307], yd:[0.30179,0.47420], yr:[-0.137,3.57], yt:[0,1,2,3], tx:0.246, ty:0.2554},
  {xd:[0.51963,1.0],     yd:[0.29974,0.47420], yr:[-0.85,7.9],   yt:[0,1,2,3,4,5,6,7], tx:0.7575, ty:0.2554},
  {xd:[0.01501,0.49538], yd:[0.05709,0.22950], yr:[-0.806,3.865], yt:[0,1,2,3], tx:0.2587, ty:0.0153},
  {xd:[0.51963,1.0],     yd:[0.05492,0.22950], yr:[-0.79,4.62],  yt:[0,1,2,3,4], tx:0.7344, ty:0.0153}
];

const layout = {
  width: 866, height: 783,
  margin: {l: 0, r: 0, t: 0, b: 0},
  paper_bgcolor: '#ffffff', plot_bgcolor: 'rgba(0,0,0,0)',
  showlegend: false,
  font: {family: FONT, color: '#222'},
  annotations: []
};

FRAMES.forEach(function (f, i) {
  const n = i + 1;
  const xk = n === 1 ? 'xaxis' : 'xaxis' + n;
  const yk = n === 1 ? 'yaxis' : 'yaxis' + n;
  const yref = n === 1 ? 'y' : 'y' + n;
  const xref = n === 1 ? 'x' : 'x' + n;
  layout[xk] = {
    domain: f.xd, range: [0, 168], anchor: yref,
    tickmode: 'array', tickvals: DAY_TICKS, ticktext: DAY_LABELS,
    ticks: 'inside', ticklen: 4, tickwidth: 1, tickcolor: '#222',
    showline: true, linecolor: '#222', linewidth: 1.2,
    showgrid: false, zeroline: false, fixedrange: true,
    tickfont: {family: FONT, size: 9, color: '#222'}, ticklabelstandoff: 2
  };
  layout[yk] = {
    domain: f.yd, range: f.yr, anchor: xref,
    tickmode: 'array', tickvals: f.yt, showticklabels: false,
    ticks: 'inside', ticklen: 4, tickwidth: 1, tickcolor: '#222',
    showline: true, linecolor: '#222', linewidth: 1.2,
    showgrid: false, zeroline: false, fixedrange: true
  };
  layout.annotations.push({
    text: TITLES[i], xref: 'paper', yref: 'paper', x: f.tx, y: f.ty,
    xanchor: 'center', yanchor: 'middle', showarrow: false,
    font: {family: FONT, size: 16, color: '#111'}
  });
});

Plotly.newPlot('chart', traces, layout, {staticPlot: true, displayModeBar: false});
</script>
</body></html>
